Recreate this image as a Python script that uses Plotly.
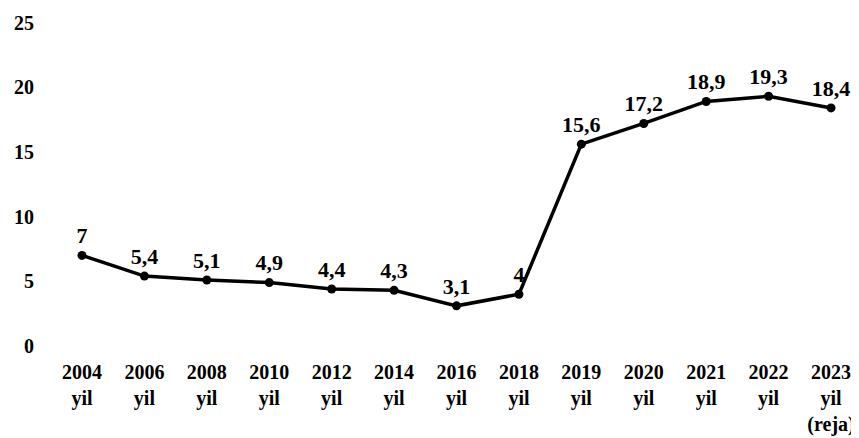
import plotly.graph_objects as go

years = ["2004", "2006", "2008", "2010", "2012", "2014", "2016", "2018",
         "2019", "2020", "2021", "2022", "2023"]
suffixes = ["yil"] * 12 + ["yil<br>(reja)"]
values = [7, 5.4, 5.1, 4.9, 4.4, 4.3, 3.1, 4, 15.6, 17.2, 18.9, 19.3, 18.4]
y_ticks = [0, 5, 10, 15, 20, 25]

tick_text = [f"{y}<br>{s}" for y, s in zip(years, suffixes)]
labels = [f"{v:g}".replace(".", ",") for v in values]
x_idx = list(range(len(years)))

font_family = "Liberation Serif, Times New Roman, serif"

fig = go.Figure()
fig.add_trace(go.Scatter(
    x=x_idx, y=values,
    mode="lines+markers+text",
    line=dict(color="black", width=3.5),
    marker=dict(color="black", size=9),
    text=labels,
    textposition="top center",
    textfont=dict(family=font_family, size=22, color="black", weight="bold"),
    cliponaxis=False,
    showlegend=False,
))

fig.update_layout(
    width=851, height=430,
    margin=dict(l=27, r=0, t=2, b=83),
    paper_bgcolor="white",
    plot_bgcolor="white",
    font=dict(family=font_family, color="black"),
)
fig.update_xaxes(
    range=[-0.753, 12.448],
    tickmode="array", tickvals=x_idx, ticktext=tick_text,
    tickfont=dict(family=font_family, size=20, color="black", weight="bold"),
    ticklabelstandoff=3,
    showgrid=False, zeroline=False, showline=False, ticks="",
)
fig.update_yaxes(
    range=[-0.70, 25.97],
    tickmode="array", tickvals=y_ticks, ticktext=[str(t) for t in y_ticks],
    tickfont=dict(family=font_family, size=20, color="black", weight="bold"),
    showgrid=False, zeroline=False, showline=False, ticks="",
)

fig.write_html("out.html")
